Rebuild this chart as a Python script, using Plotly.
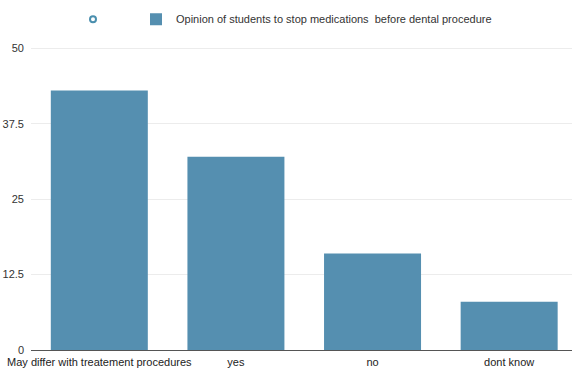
import plotly.graph_objects as go

categories = ["May differ with treatement procedures", "yes", "no", "dont know"]
values = [43, 32, 16, 8]
series_name = "Opinion of students to stop medications  before dental procedure"
y_ticks = [0, 12.5, 25, 37.5, 50]
y_tick_text = ["0", "12.5", "25", "37.5", "50"]

bar_color = "#558fb0"

fig = go.Figure()
fig.add_trace(go.Scatter(
    x=[None], y=[None], mode="markers", name="",
    marker=dict(symbol="circle-open", size=6, color="#4a8fae", line=dict(width=2)),
    showlegend=True, legend="legend",
))
fig.add_trace(go.Bar(
    x=list(range(len(categories))), y=values, name=series_name,
    marker=dict(color=bar_color, line=dict(width=0)),
    width=0.71, legend="legend2",
))

leg_common = dict(orientation="h", y=0.948, yanchor="middle", yref="container",
                  xanchor="left", xref="paper",
                  font=dict(size=11, color="#333333"), itemclick=False,
                  bgcolor="rgba(0,0,0,0)")

fig.update_layout(
    width=572, height=368,
    margin=dict(l=31, r=0, t=47, b=14),
    paper_bgcolor="white", plot_bgcolor="white",
    font=dict(family="Liberation Sans, Arial, sans-serif", size=11, color="#333333"),
    showlegend=True,
    legend=dict(x=(73 - 31) / 541, **leg_common),
    legend2=dict(x=(136 - 31) / 541, **leg_common),
    xaxis=dict(
        range=[-0.5, 3.46], tickmode="array",
        tickvals=list(range(len(categories))), ticktext=categories,
        showgrid=False, zeroline=False, showline=True, linecolor="#555555", linewidth=1,
        ticks="", ticklabelstandoff=2,
        tickfont=dict(size=11, color="#222222"), fixedrange=True,
    ),
    yaxis=dict(
        range=[0, 50.2], tickmode="array", tickvals=y_ticks, ticktext=y_tick_text,
        showgrid=True, gridcolor="#ececec", gridwidth=1, zeroline=False,
        showline=False, ticks="", ticklabelstandoff=6,
        tickfont=dict(size=11, color="#333333"), fixedrange=True,
    ),
)

fig.write_html("out.html")
